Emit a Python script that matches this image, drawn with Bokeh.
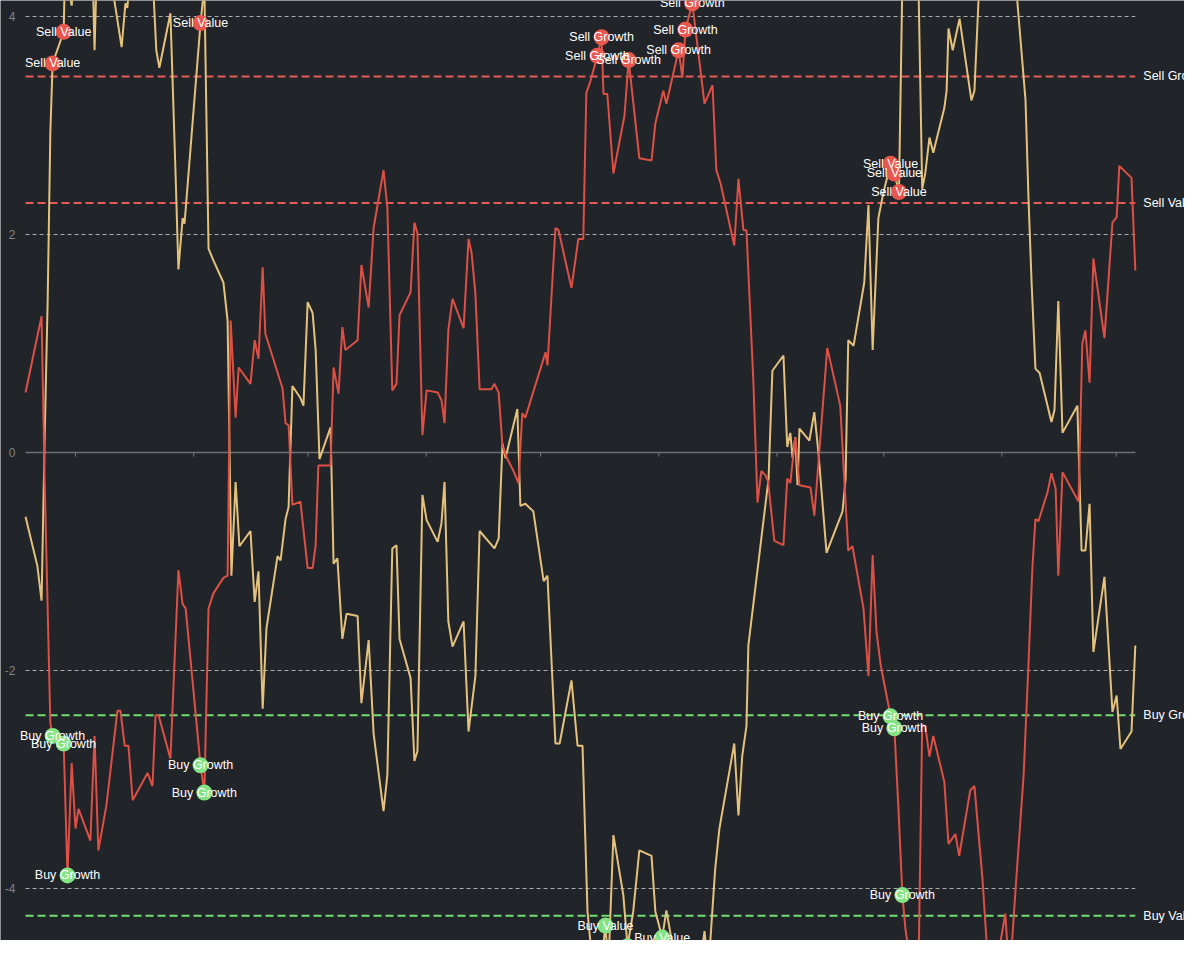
import numpy as np
import pandas as pd
from bokeh.plotting import figure
from bokeh.models import Range1d
from bokeh.core.properties import value
from bokeh.embed import file_html
from bokeh.resources import INLINE

START = pd.Timestamp("2022-08-01")

# ---- data: day offsets from START and z-scores ----
growth_days = [-13.1, -8.9, -8.1, -6.6, -6.0, -3.1, -2.1, -1.0, 0.0, 0.8,
               3.9, 5.0, 6.0, 8.1, 11.0, 11.8, 12.9, 13.9, 15.0, 18.9,
               20.2, 21.0, 21.8, 24.9, 27.0, 28.1, 28.9, 32.8, 33.8, 34.9,
               36.2, 38.8, 39.9, 40.7, 42.0, 42.8, 45.9, 47.0, 48.0, 49.1,
               49.8, 54.3, 55.1, 55.9, 56.9, 59.0, 60.9, 62.2, 63.0, 63.7,
               66.9, 67.7, 69.0, 70.0, 70.8, 74.0, 75.0, 76.9, 78.2, 80.8,
               81.8, 83.1, 84.2, 85.0, 87.9, 88.9, 89.7, 91.0, 92.1, 95.0,
               96.0, 96.8, 97.8, 98.9, 101.8, 103.1, 103.9, 104.9, 106.0, 109.1,
               109.9, 111.0, 112.0, 113.3, 114.9, 116.2, 117.2, 118.0, 123.3, 123.8,
               125.9, 126.7, 130.1, 131.9, 133.2, 134.0, 135.1, 136.9, 138.0, 138.5,
               139.5, 141.1, 144.0, 145.1, 147.9, 151.1, 152.1, 154.2, 155.0, 158.2,
               159.2, 160.0, 161.8, 165.0, 167.1, 168.1, 169.2, 172.8, 173.9, 175.2,
               176.0, 177.8, 178.9, 179.9, 181.0, 181.7, 183.3, 185.7, 186.7, 187.5,
               188.8, 189.9, 192.8, 193.8, 197.2, 200.6, 202.7, 203.8, 206.7, 208.0,
               209.1, 210.1, 211.2, 213.8, 214.8, 215.9, 216.9, 217.7, 219.5, 221.1,
               222.1, 222.9, 224.0, 225.0, 227.9, 229.0, 230.8, 231.8, 234.7, 235.8,
               237.9, 240.0, 243.9, 245.0, 246.6, 248.7, 250.0, 251.0, 251.8, 252.6,
               255.0, 256.0, 257.1, 257.8, 258.9, 263.1, 264.1, 264.9, 266.0, 267.0,
               269.9, 272.0, 273.1, 273.8, 277.0, 278.0]
growth_z = [0.55, 1.25, -0.24, -2.48, -2.60, -2.67, -3.88, -2.85, -3.45, -3.27,
            -3.56, -2.60, -3.65, -3.24, -2.37, -2.37, -2.69, -2.69, -3.19, -2.94,
            -3.06, -2.41, -2.41, -2.81, -1.08, -1.39, -1.43, -2.87, -3.12, -1.43,
            -1.29, -1.15, -1.13, 1.21, 0.32, 0.78, 0.63, 1.03, 0.86, 1.70,
            1.09, 0.59, 0.27, 0.25, -0.48, -0.45, -1.06, -1.06, -0.85, -0.12,
            -0.12, 0.78, 0.54, 1.15, 0.94, 1.03, 1.72, 1.33, 2.06, 2.59,
            2.25, 0.57, 0.63, 1.26, 1.47, 2.11, 2.01, 0.16, 0.57, 0.55,
            0.48, 0.27, 1.12, 1.41, 1.14, 1.96, 1.83, 1.46, 0.58, 0.58,
            0.63, 0.55, 0.06, -0.06, -0.17, -0.28, 0.36, 0.32, 0.92, 0.80,
            2.06, 2.04, 1.51, 1.96, 1.96, 3.30, 3.41, 3.64, 3.81, 3.29,
            3.29, 2.56, 3.09, 3.60, 2.70, 2.68, 3.02, 3.32, 3.20, 3.69,
            3.44, 3.88, 4.12, 3.20, 3.37, 2.59, 2.47, 1.90, 2.51, 2.04,
            2.04, 0.66, -0.46, -0.17, -0.21, -0.27, -0.81, -0.85, -0.24, -0.28,
            0.14, -0.30, -0.32, -0.58, 0.96, 0.43, -0.90, -0.86, -1.43, -2.05,
            -0.94, -1.64, -1.95, -2.42, -2.53, -3.29, -4.06, -4.37, -4.80, -4.80,
            -2.50, -2.51, -2.79, -2.60, -3.02, -3.59, -3.50, -3.70, -3.10, -3.06,
            -3.91, -5.03, -4.23, -4.84, -4.00, -2.96, -1.92, -1.06, -0.61, -0.63,
            -0.36, -0.19, -0.33, -1.13, -0.18, -0.45, 1.00, 1.12, 0.64, 1.78,
            1.05, 2.11, 2.16, 2.63, 2.52, 1.67]

value_days = [-13.1, -10.0, -8.9, -8.1, -7.3, -6.6, -6.0, -3.1, -2.9, -2.1,
              -1.0, -0.3, 4.5, 5.0, 5.5, 7.6, 10.0, 12.1, 13.1, 13.6,
              14.2, 17.0, 20.5, 21.2, 22.0, 24.9, 26.2, 27.0, 28.1, 28.6,
              32.8, 33.8, 34.9, 36.2, 38.8, 39.9, 40.9, 42.0, 43.0, 45.9,
              47.0, 48.0, 49.1, 50.1, 53.0, 53.8, 55.1, 55.9, 56.9, 59.0,
              59.8, 60.9, 62.2, 63.0, 64.0, 66.9, 67.7, 68.7, 70.0, 71.1,
              74.0, 75.0, 76.9, 78.2, 80.8, 81.8, 83.1, 84.2, 85.0, 87.9,
              88.9, 89.7, 91.0, 92.1, 95.0, 96.0, 96.8, 97.8, 98.9, 101.8,
              103.1, 104.9, 106.0, 109.9, 111.0, 112.0, 112.8, 115.9, 116.7, 118.0,
              120.1, 122.8, 123.8, 125.9, 127.0, 130.1, 131.7, 133.0, 134.3, 135.9,
              136.9, 138.0, 139.0, 139.8, 141.1, 143.7, 144.8, 146.3, 147.9, 151.1,
              152.1, 153.9, 155.0, 156.6, 158.7, 160.0, 162.6, 165.0, 166.0, 167.8,
              168.9, 172.8, 173.9, 174.9, 176.0, 176.5, 181.8, 182.8, 185.7, 186.7,
              187.5, 188.1, 188.8, 189.4, 189.9, 192.5, 193.8, 194.9, 197.0, 201.2,
              202.0, 202.7, 204.1, 206.9, 208.0, 209.1, 210.6, 211.9, 213.8, 214.8,
              216.0, 216.9, 221.1, 222.1, 222.9, 224.0, 225.0, 227.9, 228.5, 229.0,
              230.1, 231.9, 235.0, 235.8, 237.1, 241.3, 246.6, 249.2, 250.0, 250.8,
              251.8, 252.9, 256.0, 256.8, 257.8, 258.9, 262.8, 263.9, 264.9, 266.0,
              267.0, 269.9, 272.0, 273.1, 274.1, 277.0, 278.0]
value_z = [-0.59, -1.04, -1.36, 0.11, 1.39, 2.93, 3.57, 3.86, 4.19, 4.33,
           4.10, 4.42, 4.42, 3.69, 4.33, 4.59, 4.19, 3.72, 4.12, 4.08,
           4.33, 4.50, 4.19, 3.69, 3.53, 4.03, 2.61, 1.68, 2.15, 2.10,
           3.94, 4.28, 1.87, 1.76, 1.56, 1.21, -1.13, -0.27, -0.86, -0.72,
           -1.37, -1.09, -2.35, -1.61, -0.95, -0.99, -0.61, -0.50, 0.61, 0.50,
           0.43, 1.38, 1.28, 0.94, -0.06, 0.23, -1.02, -0.97, -1.71, -1.48,
           -1.50, -2.30, -1.72, -2.58, -3.29, -2.96, -0.88, -0.85, -1.71, -2.07,
           -2.83, -2.74, -0.39, -0.62, -0.82, -0.65, -0.27, -1.55, -1.78, -1.55,
           -2.56, -2.05, -0.72, -0.88, -0.79, 0.08, -0.05, 0.40, -0.49, -0.47,
           -0.54, -1.18, -1.13, -2.67, -2.67, -2.09, -2.69, -2.69, -4.21, -4.80,
           -5.03, -4.66, -4.34, -4.71, -3.51, -4.06, -4.53, -4.21, -3.65, -3.70,
           -4.21, -4.45, -4.20, -4.52, -4.61, -4.94, -5.03, -4.39, -4.75, -3.82,
           -3.45, -2.67, -3.33, -2.78, -2.51, -1.77, -0.24, 0.75, 0.89, 0.05,
           0.18, -0.05, 0.14, -0.30, 0.22, 0.11, 0.37, -0.01, -0.92, -0.54,
           -0.24, 1.03, 0.98, 1.56, 2.27, 0.94, 2.15, 2.38, 2.65, 2.56,
           2.39, 4.33, 4.33, 2.42, 2.56, 2.89, 2.75, 3.16, 3.32, 3.89,
           3.69, 3.98, 3.23, 3.32, 4.33, 4.68, 4.33, 3.23, 2.31, 1.55,
           0.77, 0.73, 0.28, 0.39, 1.39, 0.18, 0.43, -0.90, -0.90, -0.47,
           -1.83, -1.14, -2.38, -2.23, -2.72, -2.56, -1.77]

threshold_names = ["Sell Growth", "Sell Value", "Buy Growth", "Buy Value"]
threshold_levels = [3.45, 2.29, -2.41, -4.25]

# signal dates (day offsets) on each series
sell_value_days = [-6.0, -3.1, 32.8, 213.8, 214.8, 216.0]
buy_growth_days = [-6.0, -3.1, -2.1, 32.8, 33.8, 213.8, 214.8, 216.9]
sell_growth_days = [136.9, 138.0, 145.1, 158.2, 160.0, 161.8]
buy_value_days = [139.0, 144.8, 153.9, 158.7]

y_ticks = [-4, -2, 0, 2, 4]
y_tick_labels = ["-4", "-2", "0", "2", "4"]
x_window = [-19.67, 290.9]
y_window = [-4.477, 4.147]

# ---- styling ----
BG = "#212428"
GROWTH_C = "#dc5046"
VALUE_C = "#e4c27e"
SELL_C = "#e8574e"
BUY_C = "#84e384"
SELL_LINE = "#e35d56"
BUY_LINE = "#72dd72"
GRID_C = "#c4c4c4"
AXIS_C = "#6d7077"
LABEL_C = "#80838a"
FONT = "Liberation Sans"


def to_dt(days):
    return START + pd.to_timedelta(np.asarray(days, dtype=float), unit="D")


def pick(days, vals, sel):
    m = dict(zip(days, vals))
    return [m[d] for d in sel]


W, H = 1184, 940
x_lo, x_hi = to_dt(x_window)
p = figure(width=W, height=H, x_axis_type="datetime",
           x_axis_location=None, y_axis_location=None,
           x_range=Range1d(x_lo, x_hi), y_range=Range1d(y_window[0], y_window[1]),
           output_backend="svg", toolbar_location=None,
           background_fill_color=BG, border_fill_color=BG,
           outline_line_color=None,
           min_border_left=0, min_border_right=0, min_border_top=0, min_border_bottom=0)
p.xgrid.visible = False
p.ygrid.visible = False

x_first = to_dt([min(growth_days[0], value_days[0])])[0]
x_last = to_dt([max(growth_days[-1], value_days[-1])])[0]

# y tick labels at the left edge
p.text(x=[x_lo] * len(y_ticks), y=y_ticks, text=y_tick_labels, x_offset=15,
       text_align="right", text_baseline="middle", text_color=LABEL_C,
       text_font=value(FONT), text_font_size="12px")

# dashed horizontal grid lines (not at 0)
grid_levels = [t for t in y_ticks if t != 0]
p.segment(x0=[x_first] * len(grid_levels), x1=[x_last] * len(grid_levels),
          y0=grid_levels, y1=grid_levels, line_color=GRID_C, line_width=1,
          line_dash="4 3", line_alpha=0.85)

# zero axis line with month ticks
px_per_unit = H / (y_window[1] - y_window[0])
tick_len = 4 / px_per_unit
months = pd.date_range("2022-08-01", "2023-05-01", freq="MS")
p.segment(x0=[x_first], x1=[x_last], y0=[0], y1=[0], line_color=AXIS_C, line_width=1.5)
p.segment(x0=months, x1=months, y0=[0] * len(months), y1=[-tick_len] * len(months),
          line_color=AXIS_C, line_width=1.2)

# threshold lines
thr_colors = [SELL_LINE, SELL_LINE, BUY_LINE, BUY_LINE]
p.segment(x0=[x_first] * 4, x1=[x_last] * 4, y0=threshold_levels, y1=threshold_levels,
          line_color=thr_colors, line_width=2, line_dash="8 4")
p.text(x=[x_last] * 4, y=threshold_levels, text=threshold_names, x_offset=8,
       text_align="left", text_baseline="middle", text_color="white",
       text_font=value(FONT), text_font_size="12.5px")

# series lines
p.line(to_dt(value_days), value_z, line_color=VALUE_C, line_width=2)
p.line(to_dt(growth_days), growth_z, line_color=GROWTH_C, line_width=2)

# signal markers
sell_x = list(to_dt(sell_value_days)) + list(to_dt(sell_growth_days))
sell_y = pick(value_days, value_z, sell_value_days) + pick(growth_days, growth_z, sell_growth_days)
sell_t = ["Sell Value"] * len(sell_value_days) + ["Sell Growth"] * len(sell_growth_days)
buy_x = list(to_dt(buy_growth_days)) + list(to_dt(buy_value_days))
buy_y = pick(growth_days, growth_z, buy_growth_days) + pick(value_days, value_z, buy_value_days)
buy_t = ["Buy Growth"] * len(buy_growth_days) + ["Buy Value"] * len(buy_value_days)

p.scatter(sell_x, sell_y, size=16, fill_color=SELL_C, line_color=None)
p.scatter(buy_x, buy_y, size=16, fill_color=BUY_C, line_color=None)
p.text(x=sell_x + buy_x, y=sell_y + buy_y, text=sell_t + buy_t,
       text_align="center", text_baseline="middle", text_color="white",
       text_font=value(FONT), text_font_size="12.5px")

open("out.html", "w").write(file_html(p, INLINE))
